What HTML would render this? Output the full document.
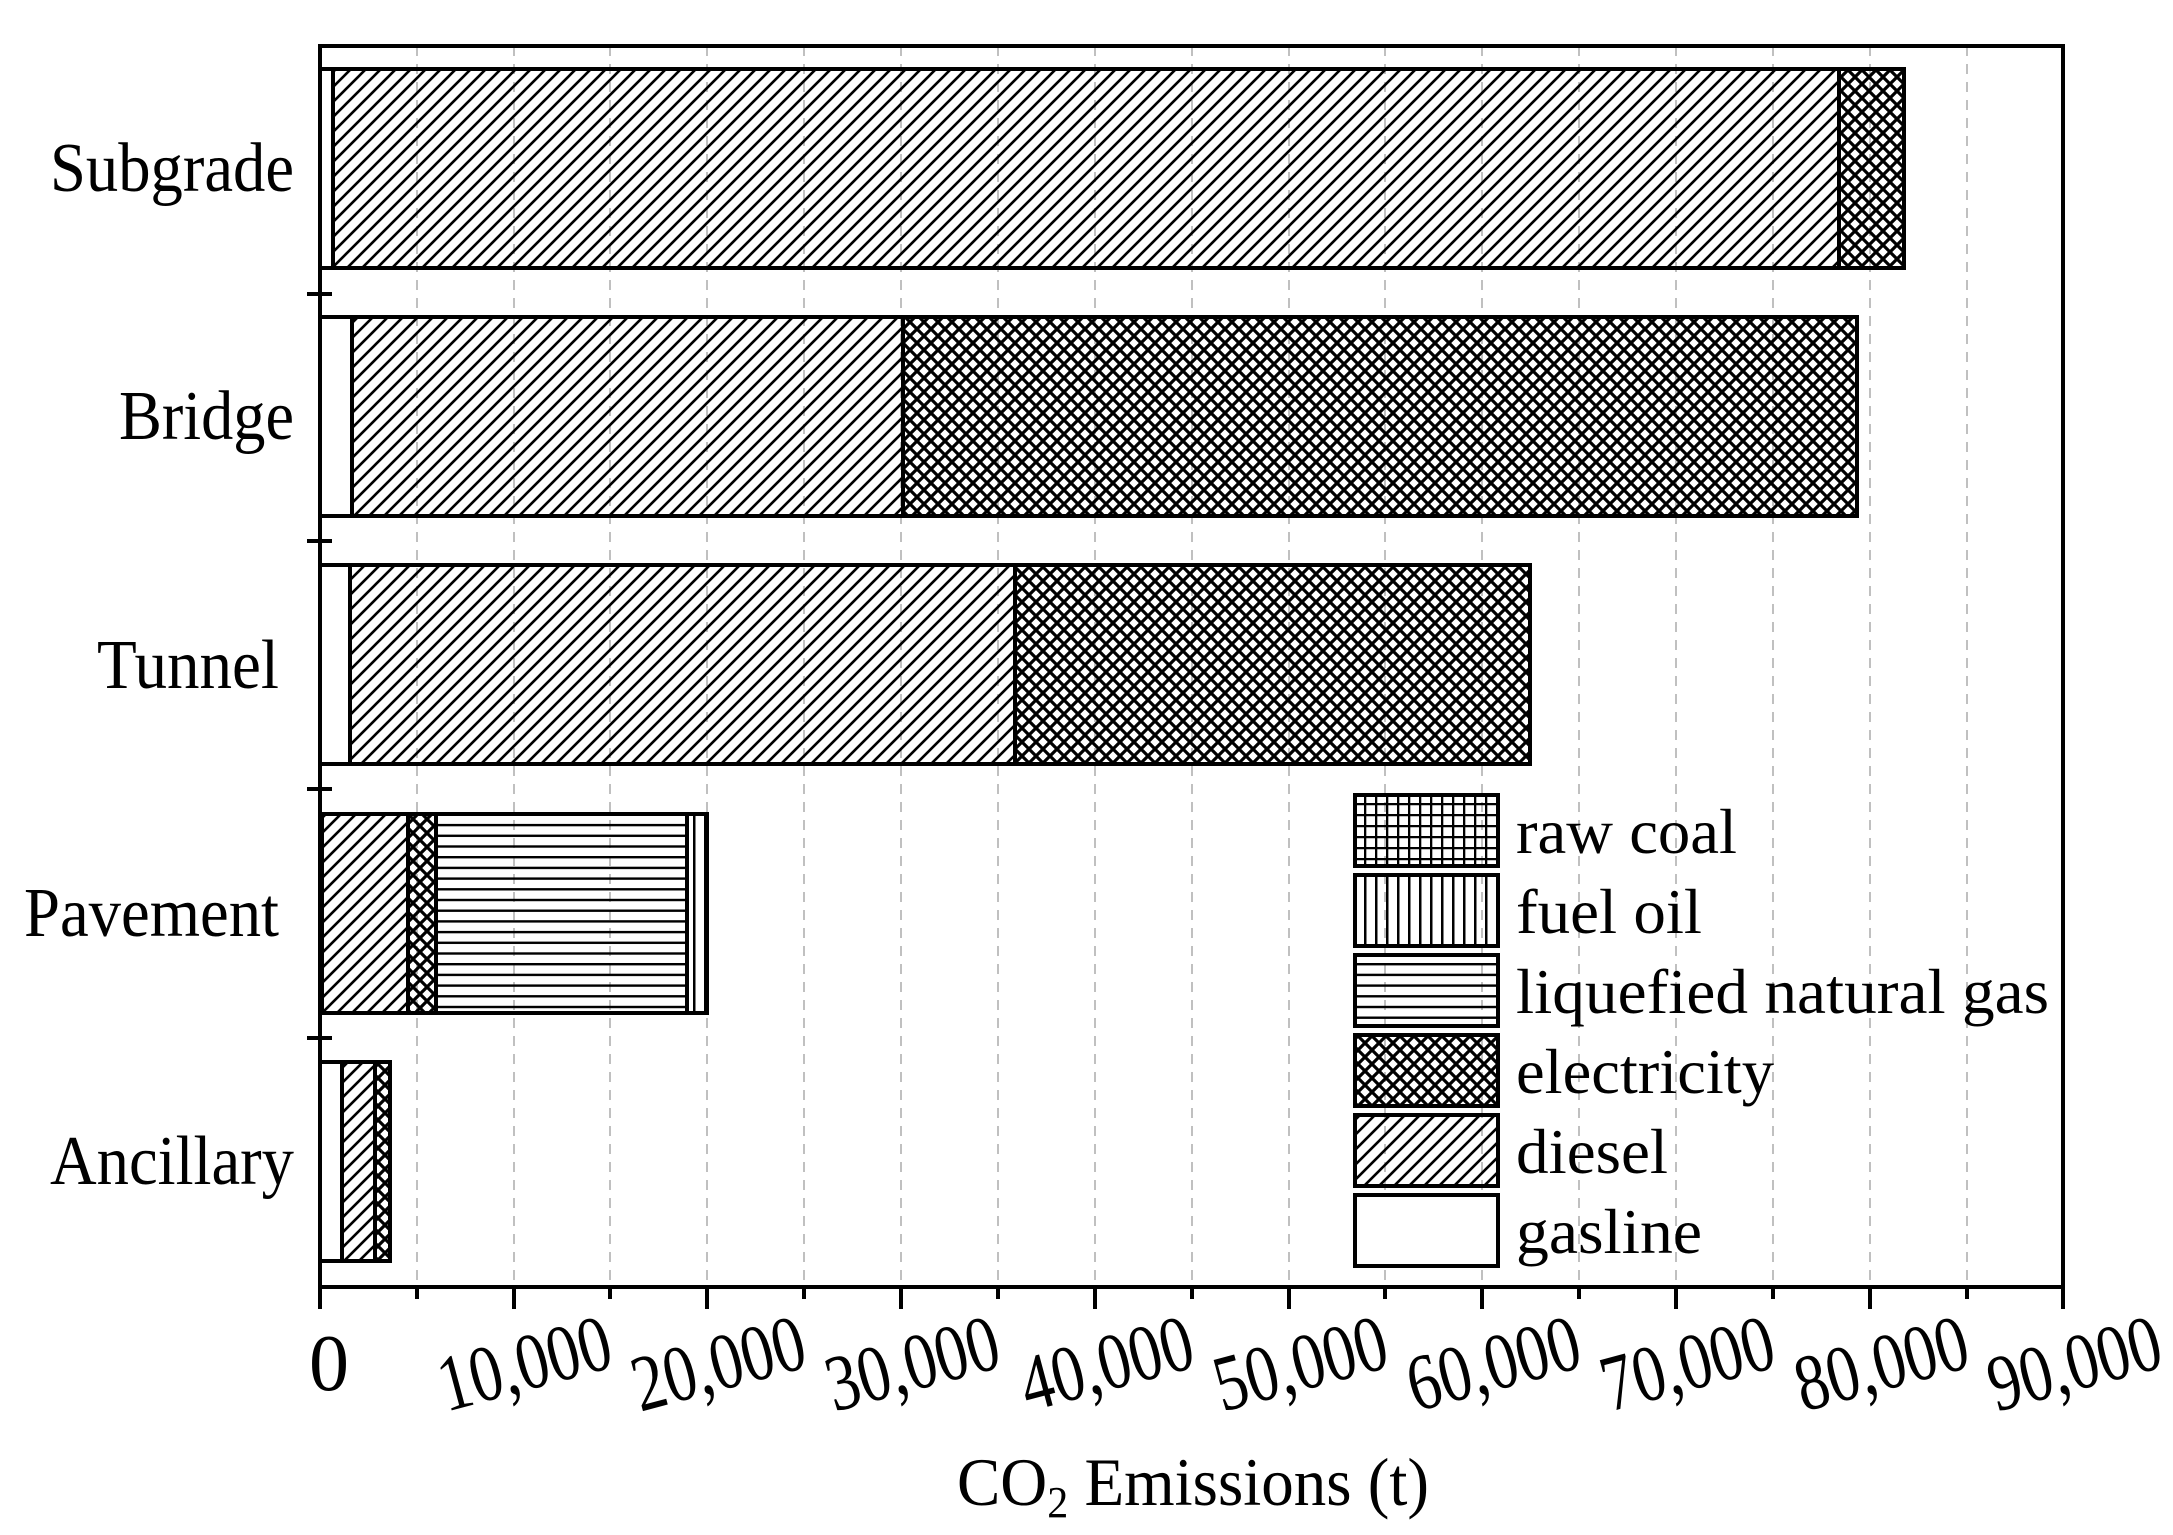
<!DOCTYPE html>
<html><head><meta charset="utf-8"><style>
html,body{margin:0;padding:0;background:#fff;}
svg{display:block;}
text{font-family:"Liberation Serif",serif;fill:#000;}
</style></head><body>
<svg width="2173" height="1535" viewBox="0 0 2173 1535" xmlns="http://www.w3.org/2000/svg">
<defs>
<pattern id="diag" patternUnits="userSpaceOnUse" width="15" height="15">
<path d="M-4,19 L19,-4 M-4,4 L4,-4 M11,19 L19,11" stroke="#000" stroke-width="2.6"/>
</pattern>
<pattern id="cross" patternUnits="userSpaceOnUse" width="14" height="14">
<path d="M0,0 L14,14 M14,0 L0,14" stroke="#000" stroke-width="3.2"/>
</pattern>
<pattern id="hor" patternUnits="userSpaceOnUse" width="11" height="10.7">
<path d="M0,1 L11,1" stroke="#000" stroke-width="2.8"/>
</pattern>
<pattern id="ver" patternUnits="userSpaceOnUse" width="11" height="11">
<path d="M1,0 L1,11" stroke="#000" stroke-width="3"/>
</pattern>
<pattern id="grid" patternUnits="userSpaceOnUse" width="11" height="11">
<path d="M1,0 L1,11 M0,1 L11,1" stroke="#000" stroke-width="2.6"/>
</pattern>
</defs>

<g stroke="#c0c0c0" stroke-width="2" stroke-dasharray="10,8">
<line x1="417" y1="46" x2="417" y2="1287"/><line x1="514" y1="46" x2="514" y2="1287"/>
<line x1="610" y1="46" x2="610" y2="1287"/><line x1="707" y1="46" x2="707" y2="1287"/>
<line x1="804" y1="46" x2="804" y2="1287"/><line x1="901" y1="46" x2="901" y2="1287"/>
<line x1="998" y1="46" x2="998" y2="1287"/><line x1="1095" y1="46" x2="1095" y2="1287"/>
<line x1="1192" y1="46" x2="1192" y2="1287"/><line x1="1289" y1="46" x2="1289" y2="1287"/>
<line x1="1385" y1="46" x2="1385" y2="1287"/><line x1="1482" y1="46" x2="1482" y2="1287"/>
<line x1="1579" y1="46" x2="1579" y2="1287"/><line x1="1676" y1="46" x2="1676" y2="1287"/>
<line x1="1773" y1="46" x2="1773" y2="1287"/><line x1="1870" y1="46" x2="1870" y2="1287"/>
<line x1="1967" y1="46" x2="1967" y2="1287"/>
</g>

<g stroke="#000" stroke-width="4">
<rect x="320" y="69" width="13" height="199" fill="#fff"/>
<rect x="333" y="69" width="1506" height="199" fill="url(#diag)"/>
<rect x="1839" y="69" width="65" height="199" fill="url(#cross)"/>
<rect x="320" y="317" width="32" height="199" fill="#fff"/>
<rect x="352" y="317" width="551" height="199" fill="url(#diag)"/>
<rect x="903" y="317" width="954" height="199" fill="url(#cross)"/>
<rect x="320" y="565" width="30" height="199" fill="#fff"/>
<rect x="350" y="565" width="665" height="199" fill="url(#diag)"/>
<rect x="1015" y="565" width="515" height="199" fill="url(#cross)"/>
<rect x="322" y="814" width="86" height="199" fill="url(#diag)"/>
<rect x="408" y="814" width="28" height="199" fill="url(#cross)"/>
<rect x="436" y="814" width="251" height="199" fill="url(#hor)"/>
<rect x="687" y="814" width="20" height="199" fill="url(#ver)"/>
<rect x="320" y="1062" width="22" height="199" fill="#fff"/>
<rect x="342" y="1062" width="33" height="199" fill="url(#diag)"/>
<rect x="375" y="1062" width="15" height="199" fill="url(#cross)"/>
</g>

<rect x="320" y="46" width="1743" height="1241" fill="none" stroke="#000" stroke-width="4"/>
<g stroke="#000" stroke-width="4">
<line x1="307" y1="294" x2="332" y2="294"/><line x1="307" y1="541" x2="332" y2="541"/>
<line x1="307" y1="789" x2="332" y2="789"/><line x1="307" y1="1038" x2="332" y2="1038"/>
<line x1="320" y1="1287" x2="320" y2="1309"/><line x1="514" y1="1287" x2="514" y2="1309"/>
<line x1="707" y1="1287" x2="707" y2="1309"/><line x1="901" y1="1287" x2="901" y2="1309"/>
<line x1="1095" y1="1287" x2="1095" y2="1309"/><line x1="1289" y1="1287" x2="1289" y2="1309"/>
<line x1="1482" y1="1287" x2="1482" y2="1309"/><line x1="1676" y1="1287" x2="1676" y2="1309"/>
<line x1="1870" y1="1287" x2="1870" y2="1309"/><line x1="2063" y1="1287" x2="2063" y2="1309"/>
<line x1="417" y1="1287" x2="417" y2="1299"/><line x1="610" y1="1287" x2="610" y2="1299"/>
<line x1="804" y1="1287" x2="804" y2="1299"/><line x1="998" y1="1287" x2="998" y2="1299"/>
<line x1="1192" y1="1287" x2="1192" y2="1299"/><line x1="1385" y1="1287" x2="1385" y2="1299"/>
<line x1="1579" y1="1287" x2="1579" y2="1299"/><line x1="1773" y1="1287" x2="1773" y2="1299"/>
<line x1="1967" y1="1287" x2="1967" y2="1299"/>
</g>

<g font-size="70" text-anchor="end">
<text x="294" y="191" textLength="244" lengthAdjust="spacingAndGlyphs">Subgrade</text>
<text x="294" y="439" textLength="175" lengthAdjust="spacingAndGlyphs">Bridge</text>
<text x="279" y="688" textLength="182" lengthAdjust="spacingAndGlyphs">Tunnel</text>
<text x="279" y="936" textLength="255" lengthAdjust="spacingAndGlyphs">Pavement</text>
<text x="294" y="1184" textLength="244" lengthAdjust="spacingAndGlyphs">Ancillary</text>
</g>

<g font-size="80" text-anchor="start">
<text x="0" y="0" text-anchor="middle" transform="translate(329,1362) translate(0,28)">0</text>
<text x="0" y="0" textLength="176" lengthAdjust="spacingAndGlyphs" transform="translate(524,1362) rotate(-15) translate(-88,28)">10,000</text>
<text x="0" y="0" textLength="176" lengthAdjust="spacingAndGlyphs" transform="translate(718,1362) rotate(-15) translate(-88,28)">20,000</text>
<text x="0" y="0" textLength="176" lengthAdjust="spacingAndGlyphs" transform="translate(912,1362) rotate(-15) translate(-88,28)">30,000</text>
<text x="0" y="0" textLength="176" lengthAdjust="spacingAndGlyphs" transform="translate(1106,1362) rotate(-15) translate(-88,28)">40,000</text>
<text x="0" y="0" textLength="176" lengthAdjust="spacingAndGlyphs" transform="translate(1300,1362) rotate(-15) translate(-88,28)">50,000</text>
<text x="0" y="0" textLength="176" lengthAdjust="spacingAndGlyphs" transform="translate(1493,1362) rotate(-15) translate(-88,28)">60,000</text>
<text x="0" y="0" textLength="176" lengthAdjust="spacingAndGlyphs" transform="translate(1687,1362) rotate(-15) translate(-88,28)">70,000</text>
<text x="0" y="0" textLength="176" lengthAdjust="spacingAndGlyphs" transform="translate(1881,1362) rotate(-15) translate(-88,28)">80,000</text>
<text x="0" y="0" textLength="176" lengthAdjust="spacingAndGlyphs" transform="translate(2074,1362) rotate(-15) translate(-88,28)">90,000</text>
</g>

<text x="957" y="1505" font-size="68" textLength="472" lengthAdjust="spacingAndGlyphs">CO<tspan font-size="44" dy="12">2</tspan><tspan dy="-12"> Emissions (t)</tspan></text>

<g stroke="#000" stroke-width="4">
<rect x="1355" y="795" width="143" height="71" fill="url(#grid)"/>
<rect x="1355" y="875" width="143" height="71" fill="url(#ver)"/>
<rect x="1355" y="955" width="143" height="71" fill="url(#hor)"/>
<rect x="1355" y="1035" width="143" height="71" fill="url(#cross)"/>
<rect x="1355" y="1115" width="143" height="71" fill="url(#diag)"/>
<rect x="1355" y="1195" width="143" height="71" fill="#fff"/>
</g>
<g font-size="64">
<text x="1516" y="853" textLength="221" lengthAdjust="spacingAndGlyphs">raw coal</text>
<text x="1516" y="933" textLength="186" lengthAdjust="spacingAndGlyphs">fuel oil</text>
<text x="1516" y="1013" textLength="533" lengthAdjust="spacingAndGlyphs">liquefied natural gas</text>
<text x="1516" y="1093" textLength="258" lengthAdjust="spacingAndGlyphs">electricity</text>
<text x="1516" y="1173" textLength="152" lengthAdjust="spacingAndGlyphs">diesel</text>
<text x="1516" y="1253" textLength="186" lengthAdjust="spacingAndGlyphs">gasline</text>
</g>
</svg>
</body></html>
